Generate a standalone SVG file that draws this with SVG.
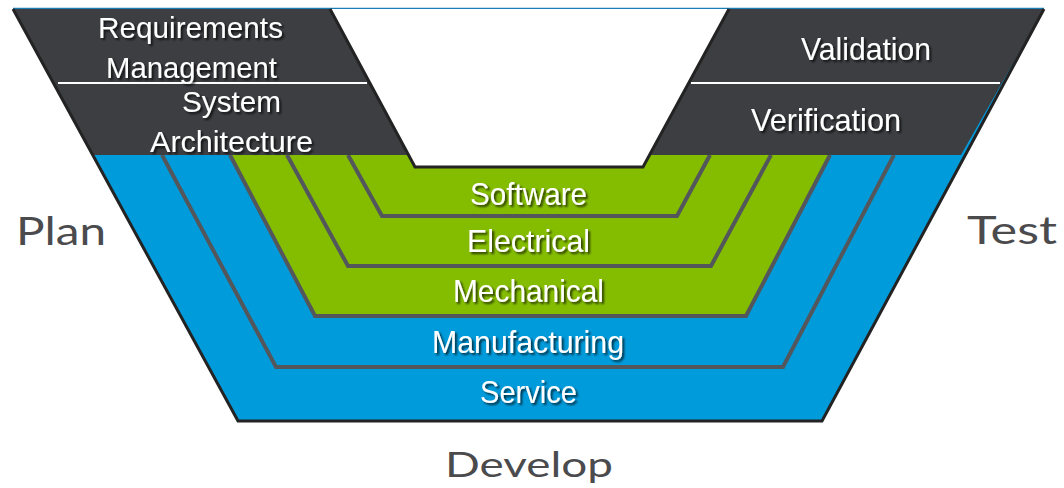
<svg xmlns="http://www.w3.org/2000/svg" width="1064" height="488" viewBox="0 0 1064 488">
<defs>
<style>
.lbl{font-family:"Liberation Sans Narrow","Liberation Sans",Arial,sans-serif;font-size:32px;fill:#ffffff;text-anchor:middle;filter:url(#sh);}
.two{font-size:30px;}
.side{font-family:Lato,"DejaVu Sans",sans-serif;font-weight:400;fill:#4b4b4e;text-anchor:middle;}
.sep{fill:none;stroke:#53575b;stroke-width:4;stroke-linejoin:miter;}
.edge{fill:none;stroke:#232323;stroke-width:3;stroke-linejoin:miter;}
.div{stroke:#ffffff;stroke-width:2;}
.dark{fill:#3d3e42;}
</style>
<filter id="sh" x="-10%" y="-20%" width="130%" height="150%">
<feDropShadow dx="2" dy="2" stdDeviation="1" flood-color="#000000" flood-opacity="0.7"/>
</filter>
</defs>
<rect width="1064" height="488" fill="#ffffff"/>
<g id="base">
<polygon points="13,9 330,9 415,167 643,167 729,9 1044,9 822,421 238,421" fill="#009bdb"/>
<polygon points="230,155 315,316 746,316 830,155" fill="#84bd00"/>
<line x1="13" y1="8.5" x2="1044" y2="8.5" stroke="#1a7fb8" stroke-width="1.5"/>
</g>
<g id="separators">
<polyline class="sep" points="348,155 382,216 677,216 710,155"/>
<polyline class="sep" points="287,155 348,266 711,266 771,155"/>
<polyline class="sep" points="230,155 315,316 746,316 830,155"/>
<polyline class="sep" points="162,155 276,367 783,367 894,155"/>
</g>
<g id="plan-bands">
<polygon class="dark" points="13,9 330,9 409,155 93,155"/>
<line class="div" x1="58" y1="83" x2="367" y2="83"/>
</g>
<g id="test-bands">
<polygon class="dark" points="729,9 1044,9 961,155 650,155"/>
<line class="div" x1="691" y1="83" x2="1000" y2="83"/>
</g>
<g id="outline">
<polygon points="330,9 415,167 643,167 729,9" fill="#ffffff"/>
<polyline class="edge" points="13,9 238,421 822,421 1044,9"/>
<polyline class="edge" points="330,9 415,167 643,167 729,9"/>
</g>
<g id="requirements-management">
<text class="lbl two" x="190.5" y="38" textLength="185" lengthAdjust="spacingAndGlyphs">Requirements</text>
<text class="lbl two" x="191.5" y="78" textLength="171" lengthAdjust="spacingAndGlyphs">Management</text>
</g>
<g id="system-architecture">
<text class="lbl two" x="231.5" y="112" textLength="99" lengthAdjust="spacingAndGlyphs">System</text>
<text class="lbl two" x="231.5" y="152" textLength="163" lengthAdjust="spacingAndGlyphs">Architecture</text>
</g>
<g id="validation">
<text class="lbl" x="866" y="60" textLength="130" lengthAdjust="spacingAndGlyphs">Validation</text>
</g>
<g id="verification">
<text class="lbl" x="826" y="131" textLength="150" lengthAdjust="spacingAndGlyphs">Verification</text>
</g>
<g id="software">
<text class="lbl" x="528.5" y="205" textLength="117" lengthAdjust="spacingAndGlyphs">Software</text>
</g>
<g id="electrical">
<text class="lbl" x="528.5" y="252" textLength="123" lengthAdjust="spacingAndGlyphs">Electrical</text>
</g>
<g id="mechanical">
<text class="lbl" x="528.5" y="302" textLength="151" lengthAdjust="spacingAndGlyphs">Mechanical</text>
</g>
<g id="manufacturing">
<text class="lbl" x="528" y="353" textLength="192" lengthAdjust="spacingAndGlyphs">Manufacturing</text>
</g>
<g id="service">
<text class="lbl" x="528.5" y="403" textLength="97" lengthAdjust="spacingAndGlyphs">Service</text>
</g>
<g id="plan">
<text class="side" x="61" y="245" font-size="38" textLength="90" lengthAdjust="spacingAndGlyphs">Plan</text>
</g>
<g id="test">
<text class="side" x="1012" y="244" font-size="38" textLength="90" lengthAdjust="spacingAndGlyphs">Test</text>
</g>
<g id="develop">
<text class="side" x="529" y="477" font-size="35" textLength="168" lengthAdjust="spacingAndGlyphs">Develop</text>
</g>
</svg>
